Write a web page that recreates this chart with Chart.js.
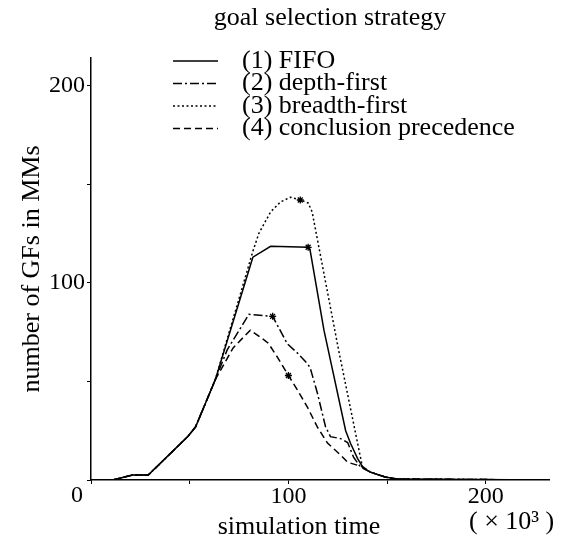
<!DOCTYPE html>
<html>
<head>
<meta charset="utf-8">
<script src="https://cdn.jsdelivr.net/npm/chart.js@4"></script>
<style>
  html, body { margin: 0; padding: 0; background: #fff; }
  canvas { display: block; }
</style>
</head>
<body>
<canvas id="statChart" width="570" height="544"></canvas>
<script>
// ---------------- text ----------------
const chartTitle = "goal selection strategy";
const xTitle = "simulation time";
const xUnit = "( × 10³ )";
const yTitle = "number of GFs in MMs";
const originLabel = "0";
const xLabelled = [100, 200]; // ticks that carry a number
const yLabelled = [100, 200];
const xTicks = [0, 50, 100, 150, 200];
const yTicks = [0, 50, 100, 150, 200];
const xMax = 232;
const yMax = 214;

const strategies = ["(1) FIFO", "(2) depth-first", "(3) breadth-first", "(4) conclusion precedence"];

// ---------------- series (simulation time x10^3, number of GFs) ----------------
const fifoTime = [0, 11, 21, 29, 49, 53, 63, 82, 91, 110, 111, 118, 129, 131.5, 135, 138, 141.5, 149, 155, 232];
const fifoGFs  = [0, 0, 2.5, 2.5, 22, 27, 51, 113, 118.5, 118, 116.5, 76, 25, 18.5, 11, 6, 4, 1.5, 0.5, 0];

const depthTime = [0, 11, 21, 29, 49, 53, 63, 69, 80, 92, 99.5, 105, 109.6, 111, 114.7, 118.8, 121.3, 126.4, 130, 133, 136.5, 141.5, 149, 155, 232];
const depthGFs  = [0, 0, 2.5, 2.5, 22, 27, 51, 66, 84, 83, 69, 64, 59, 57, 44, 27, 22, 21, 19, 11.6, 6.6, 4, 1.5, 0.5, 0];

const breadthTime = [0, 11, 21, 29, 49, 53, 63, 82, 85, 91, 96, 101, 106, 110, 112, 125.4, 137.5, 141.5, 149, 155, 232];
const breadthGFs  = [0, 0, 2.5, 2.5, 22, 27, 51, 116, 125, 136, 141, 143.4, 142, 140.5, 136, 66, 6.6, 4, 1.5, 0.5, 0];

const conclTime = [0, 11, 21, 29, 49, 53, 63, 72, 80.7, 85.8, 89.8, 94.4, 100, 104.6, 109.6, 114.7, 119.8, 126.4, 130, 135, 138, 141.5, 149, 155, 232];
const conclGFs  = [0, 0, 2.5, 2.5, 22, 27, 51, 67, 76, 72.4, 69.4, 62.3, 53, 45.6, 37, 26.8, 18.7, 12.7, 9, 7.5, 6.5, 4, 1.5, 0.5, 0];

// time at which each curve carries a star mark
const starAt = [110, 92, 106, 100];

const font = "'Liberation Serif', 'Times New Roman', serif";

function points(xs, ys) {
  return xs.map((x, i) => ({ x: x, y: ys[i] }));
}

function makeSet(i, xs, ys, dash) {
  return {
    label: strategies[i],
    data: points(xs, ys),
    borderColor: "#000",
    backgroundColor: "#000",
    borderWidth: 1.5,
    borderDash: dash,
    tension: 0,
    pointStyle: "star",
    pointBorderColor: "#000",
    pointBorderWidth: 1.3,
    pointRadius: (c) => (c.raw && c.raw.x === starAt[i] ? 3.5 : 0),
    pointHoverRadius: 0,
  };
}

//--------- title, legend, unit and origin label drawn on top
const annotate = {
  id: "annotate",
  afterDraw(chart) {
    const ctx = chart.ctx;
    const area = chart.chartArea;
    ctx.save();
    ctx.fillStyle = "#000";
    ctx.strokeStyle = "#000";
    ctx.textBaseline = "middle";

    ctx.font = "26px " + font;
    ctx.textAlign = "center";
    ctx.fillText(chartTitle, 330, 18);

    chart.data.datasets.forEach((ds, i) => {
      const ly = 61 + i * 22.5;
      ctx.beginPath();
      ctx.setLineDash(ds.borderDash || []);
      ctx.lineWidth = 1.3;
      ctx.moveTo(173, ly);
      ctx.lineTo(218, ly);
      ctx.stroke();
      ctx.setLineDash([]);
      ctx.textAlign = "left";
      ctx.fillText(ds.label, 242, ly);
    });

    ctx.textAlign = "center";
    ctx.fillText(xTitle, 299, 527);
    ctx.textAlign = "left";
    ctx.fillText(xUnit, 469, 522);

    ctx.font = "24px " + font;
    ctx.textAlign = "center";
    ctx.fillText(originLabel, area.left - 14, area.bottom + 16);
    ctx.restore();
  },
};

const ctx = document.querySelector("#statChart").getContext("2d");
const chart = new Chart(ctx, {
  type: "line",
  data: {
    datasets: [
      makeSet(0, fifoTime, fifoGFs, []),
      makeSet(1, depthTime, depthGFs, [9, 3, 2, 3]),
      makeSet(2, breadthTime, breadthGFs, [2, 2.5]),
      makeSet(3, conclTime, conclGFs, [7, 4]),
    ],
  },
  options: {
    responsive: false,
    animation: false,
    events: [],
    layout: { padding: { left: 0, right: 21, top: 58, bottom: 0 } },
    plugins: {
      legend: { display: false },
      title: { display: false },
      tooltip: { enabled: false },
    },
    scales: {
      x: {
        type: "linear",
        min: 0,
        max: xMax,
        afterFit: (s) => { s.height = 64; },
        afterBuildTicks: (s) => { s.ticks = xTicks.map((v) => ({ value: v })); },
        grid: { drawOnChartArea: false, drawTicks: true, tickLength: 4, tickColor: "#000", tickWidth: 1 },
        border: { display: true, color: "#000", width: 1.5 },
        ticks: {
          color: "#000",
          font: { family: font, size: 24 },
          padding: -2,
          maxRotation: 0,
          autoSkip: false,
          callback: (v) => (xLabelled.includes(v) ? String(v) : ""),
        },
      },
      y: {
        type: "linear",
        min: 0,
        max: yMax,
        afterFit: (s) => { s.width = 91; },
        afterBuildTicks: (s) => { s.ticks = yTicks.map((v) => ({ value: v })); },
        grid: { drawOnChartArea: false, drawTicks: true, tickLength: 4, tickColor: "#000", tickWidth: 1 },
        border: { display: true, color: "#000", width: 1.5 },
        ticks: {
          color: "#000",
          font: { family: font, size: 24 },
          padding: 2,
          autoSkip: false,
          callback: (v) => (yLabelled.includes(v) ? String(v) : ""),
        },
        title: {
          display: true,
          text: yTitle,
          color: "#000",
          font: { family: font, size: 26 },
          padding: { top: 17, bottom: 0 },
        },
      },
    },
  },
  plugins: [annotate],
});
</script>
</body>
</html>
